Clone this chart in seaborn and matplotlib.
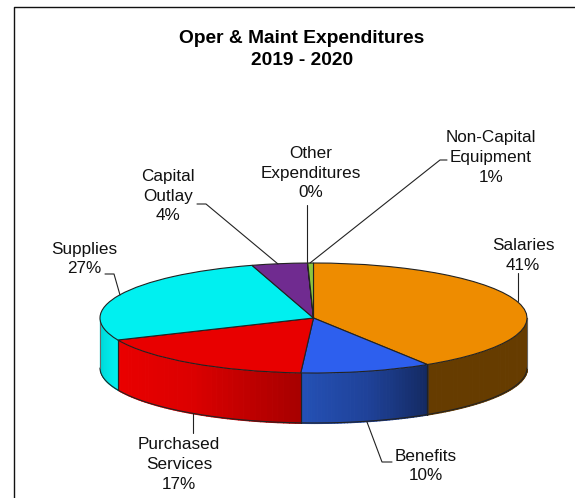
import numpy as np
import seaborn as sns
import matplotlib.pyplot as plt

categories = ['Salaries', 'Benefits', 'Purchased\nServices', 'Supplies',
              'Capital\nOutlay', 'Other\nExpenditures', 'Non-Capital\nEquipment']
values = [41.05, 9.9, 17.5, 26.9, 4.2, 0.02, 0.43]
pct_labels = ['41%', '10%', '17%', '27%', '4%', '0%', '1%']
top_colors = ['#ee8c00', '#2d5fee', '#e80000', '#00f0f0', '#702b90', '#8000ff', '#8cc63f']
# wall shading, left end to right end of each slice as seen from the front
wall_colors = [['#663c00', '#663c00'], ['#2450b4', '#1f4299', '#142a62'], ['#ea0000', '#dc0000', '#a80000'],
               ['#00d4d4', '#00f0f0'], None, None, None]

# pixel layout of the picture
W, H = 575, 498
cx, cy, rx, ry, depth = 313.5, 318, 213.5, 55, 50

sns.set_theme(style='white')
plt.rcParams['font.family'] = ['Liberation Sans', 'DejaVu Sans']

fig = plt.figure(figsize=(W / 100, H / 100), dpi=100)

# pixel axes for frame, text and leader lines
ax = fig.add_axes([0, 0, 1, 1], zorder=3)
ax.set_xlim(0, W)
ax.set_ylim(H, 0)
ax.axis('off')
ax.patch.set_alpha(0)

# pie axes: unit circle stretched to the ellipse
pie_ax = fig.add_axes([0, 0, 1, 1], zorder=1)
pie_ax.pie(values, colors=top_colors, startangle=90, counterclock=False, radius=1,
           wedgeprops={'edgecolor': '#222222', 'linewidth': 0.8, 'zorder': 5})
pie_ax.set_aspect('auto')
pie_ax.set_xlim(-cx / rx, (W - cx) / rx)
pie_ax.set_ylim((cy - H) / ry, cy / ry)
d = depth / ry

# side walls, angle measured clockwise from 3 o'clock
ends = np.cumsum(values) / sum(values) * 360 - 90
starts = np.r_[-90, ends[:-1]]
for s, e, wc in zip(starts, ends, wall_colors):
    if wc is None:
        continue
    lo, hi = max(s, 0), min(e, 180)
    if hi <= lo:
        continue
    n = 40
    shades = sns.blend_palette(wc[::-1], n)
    edges = np.radians(np.linspace(lo, hi, n + 1))
    for i in range(n):
        t = np.linspace(edges[i], edges[i + 1], 5)
        x = np.cos(t)
        y = -np.sin(t)
        pie_ax.fill_between(x, y, y - d, color=shades[i], lw=0.8, antialiased=False, zorder=1)
    for b in (lo, hi):
        if 0 < b < 180:
            tb = np.radians(b)
            pie_ax.plot([np.cos(tb)] * 2, [-np.sin(tb), -np.sin(tb) - d], color='#222222', lw=0.8, zorder=2)

t = np.radians(np.linspace(0, 180, 200))
pie_ax.plot(np.cos(t), -np.sin(t) - d, color='#222222', lw=0.8, zorder=2)
pie_ax.plot([1, 1], [0, -d], color='#666666', lw=0.7, zorder=2)
pie_ax.plot([-1, -1], [0, -d], color='#666666', lw=0.7, zorder=2)

# frame, only top and left are drawn
ax.plot([14, 14, W], [H, 7, 7], color='#111111', lw=1.0, clip_on=False)

ax.text(302, 49.5, 'Oper & Maint Expenditures\n2019 - 2020', ha='center', va='center',
        fontsize=13.8, fontweight='bold', color='black', linespacing=1.32)

label_pos = [(523, 255.5), (426, 466), (179, 464.5), (84, 259), (168, 196), (311, 173), (491, 157.5)]
leaders = [
    [(518, 301), (518, 273)],
    [(367, 422), (382, 462), (392, 462)],
    [(193, 413), (193, 433)],
    [(120, 295), (114, 274), (105, 274)],
    [(278, 264), (206, 204), (197, 204)],
    [(307, 262), (307, 205)],
    [(310, 263), (440, 160), (447, 160)],
]
for name, pct, (lx, ly), pts in zip(categories, pct_labels, label_pos, leaders):
    ax.text(lx, ly, name + '\n' + pct, ha='center', va='center', fontsize=12.3, color='#111111', linespacing=1.38)
    ax.plot(*zip(*pts), color='#222222', lw=0.8)

fig.savefig('out.png', dpi=100)
